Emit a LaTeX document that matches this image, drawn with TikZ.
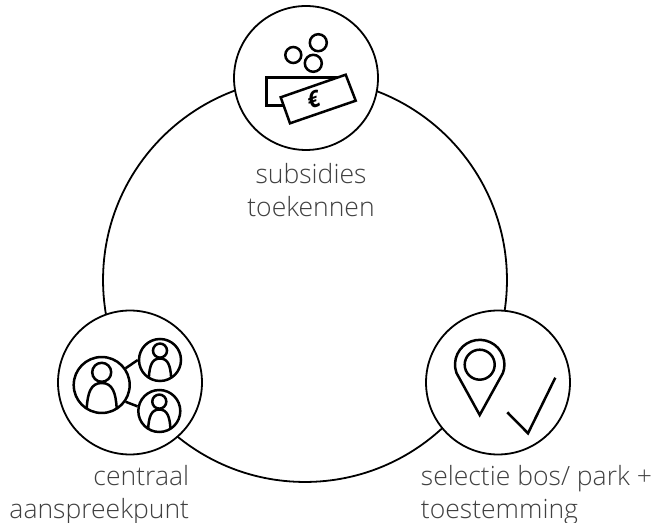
\documentclass[tikz,border=0pt]{standalone}
\usepackage{fontspec}
\setmainfont{Open Sans Light}
\newfontfamily\eurofont{Open Sans}
\usetikzlibrary{positioning, calc}

\begin{document}
\begin{tikzpicture}[x=0.02cm, y=-0.02cm, line width=0.036cm,
  stage/.style={circle, draw, fill=white, minimum size=2.88cm, inner sep=0pt},
  ring/.style={circle, draw, minimum size=8.08cm, inner sep=0pt},
  contact/.style={circle, draw, inner sep=0pt, line width=0.05cm},
  caption/.style={text=black!75, inner sep=0pt, font=\fontsize{15.1}{18.8}\selectfont},
  icon/.style={line width=0.05cm},
  person/.pic={
    \draw[icon] (0,-12.7) circle (9.5);
    \draw[icon] (-15,23) .. controls (-14,8) and (-11,-2) .. (0,-2)
      .. controls (11,-2) and (14,8) .. (15,23);
  }]
  \useasboundingbox (0,0) rectangle (656,523);
  % Main cycle
  \node[ring] (cycle) at (305,280) {};
  \node[stage] (funding) at (306,78) {};
  \node[stage] (contactpoint) at (130,382.5) {};
  \node[stage] (location) at (498,382.5) {};
  % Captions
  \node[caption, align=center, anchor=north] (fundinglabel) at (311,162) {subsidies\\toekennen};
  \node[caption, align=right, anchor=north east] (contactlabel) at (190,464) {centraal\\aanspreekpunt};
  \node[caption, align=left, anchor=north west] (locationlabel) at (420,464) {selectie bos/ park +\\toestemming};
  % Coins and notes
  \draw[icon] (293.3,55) circle (8);
  \draw[icon] (318.3,42.7) circle (8.5);
  \draw[icon] (313.3,63.3) circle (8.5);
  \draw[icon] (283.3,105.7) -- (266.7,105.7) -- (266.7,77.3) -- (338,77.3);
  \draw[icon] (280.7,97.3) -- (345.7,74.7) -- (355.7,100.7) -- (290,123.3) -- cycle;
  \node[rotate=19, font=\fontsize{13}{13}\eurofont\bfseries\itshape] (euro) at (313.3,100) {€};
  % People
  \node[contact, minimum size=1.12cm] (main) at (101.7,385) {};
  \node[contact, minimum size=0.84cm] (upper) at (160,360) {};
  \node[contact, minimum size=0.84cm] (lower) at (159.3,411) {};
  \draw[icon] (main.35) -- (upper.180);
  \draw[icon] (main.-35) -- (lower.168);
  \pic at (101.7,385) {person};
  \pic[scale=0.74] at (160,360) {person};
  \pic[scale=0.74] at (159.3,411) {person};
  % Pin and tick
  \draw[icon] (479.7,364.7) circle (15);
  \draw[icon] (479.7,415) -- (456.5,373) arc[start angle=160, end angle=380, radius=24.7] -- cycle;
  \draw[icon] (507.3,412.3) -- (528,433.3) -- (555.3,377.7);
\end{tikzpicture}
\end{document}
